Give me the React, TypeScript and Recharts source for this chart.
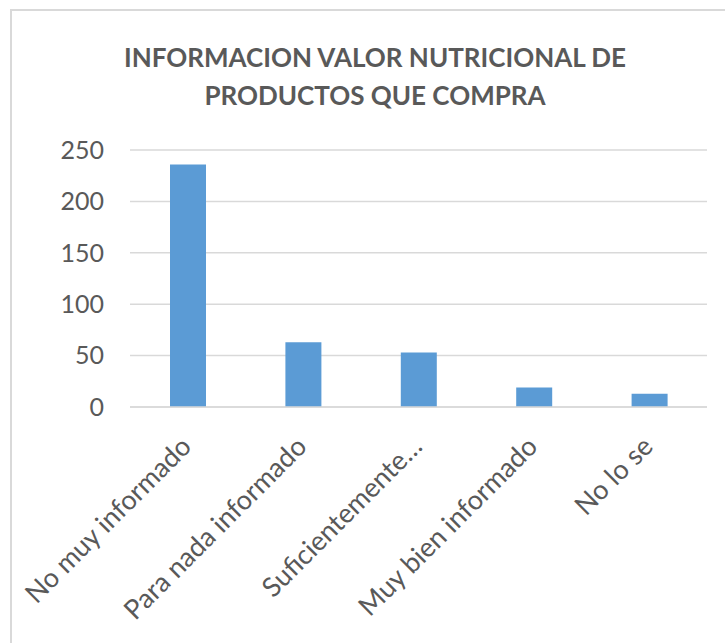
import { BarChart, Bar, XAxis, YAxis, CartesianGrid } from "recharts";

const categories = [
  "No muy informado",
  "Para nada informado",
  "Suficientemente…",
  "Muy bien informado",
  "No lo se",
];
const values = [236, 63, 53, 19, 13];
const yTicks = [0, 50, 100, 150, 200, 250];

const data = categories.map((name, i) => ({ name, value: values[i] }));

const FONT = "Lato, 'Open Sans', sans-serif";
const TEXT = "#595959";
const GRID = "#d9d9d9";

// rotated category labels, anchored at their right end like Excel does
function AngledTick(props: any) {
  const { x, y, payload } = props;
  return (
    <g transform={`translate(${x + 1},${y + 29})`}>
      <text
        transform="rotate(-45)"
        textAnchor="end"
        fill={TEXT}
        fontSize={27}
        fontFamily={FONT}
        dy={6}
      >
        {payload.value}
      </text>
    </g>
  );
}

export default function App() {
  return (
    <div
      style={{
        position: "absolute",
        left: 0,
        top: 0,
        width: 725,
        height: 643,
        overflow: "hidden",
        background: "#fff",
      }}
    >
      <div
        style={{
          position: "absolute",
          left: 10,
          top: 9,
          width: 800,
          height: 700,
          borderTop: `2px solid ${GRID}`,
          borderLeft: `2px solid ${GRID}`,
        }}
      />
      <div
        style={{
          position: "absolute",
          left: 10,
          top: 38,
          width: 730,
          textAlign: "center",
          fontFamily: FONT,
          fontWeight: 700,
          fontSize: 26,
          lineHeight: "38px",
          color: TEXT,
        }}
      >
        INFORMACION VALOR NUTRICIONAL DE
        <br />
        PRODUCTOS QUE COMPRA
      </div>
      <div style={{ position: "absolute", left: 0, top: 0 }}>
        <BarChart
          width={725}
          height={643}
          data={data}
          margin={{ top: 150, right: 18, bottom: 0, left: 0 }}
        >
          <CartesianGrid vertical={false} stroke={GRID} strokeWidth={1.5} />
          <XAxis
            dataKey="name"
            height={236}
            interval={0}
            tickLine={false}
            axisLine={{ stroke: GRID, strokeWidth: 1.5 }}
            tick={<AngledTick />}
          />
          <YAxis
            width={130}
            domain={[0, 250]}
            ticks={yTicks}
            axisLine={false}
            tickLine={false}
            tickSize={0}
            tickMargin={26}
            tick={{ fontSize: 25, fill: TEXT, fontFamily: FONT }}
          />
          <Bar
            dataKey="value"
            fill="#5b9bd5"
            barSize={36}
            isAnimationActive={false}
          />
        </BarChart>
      </div>
    </div>
  );
}
